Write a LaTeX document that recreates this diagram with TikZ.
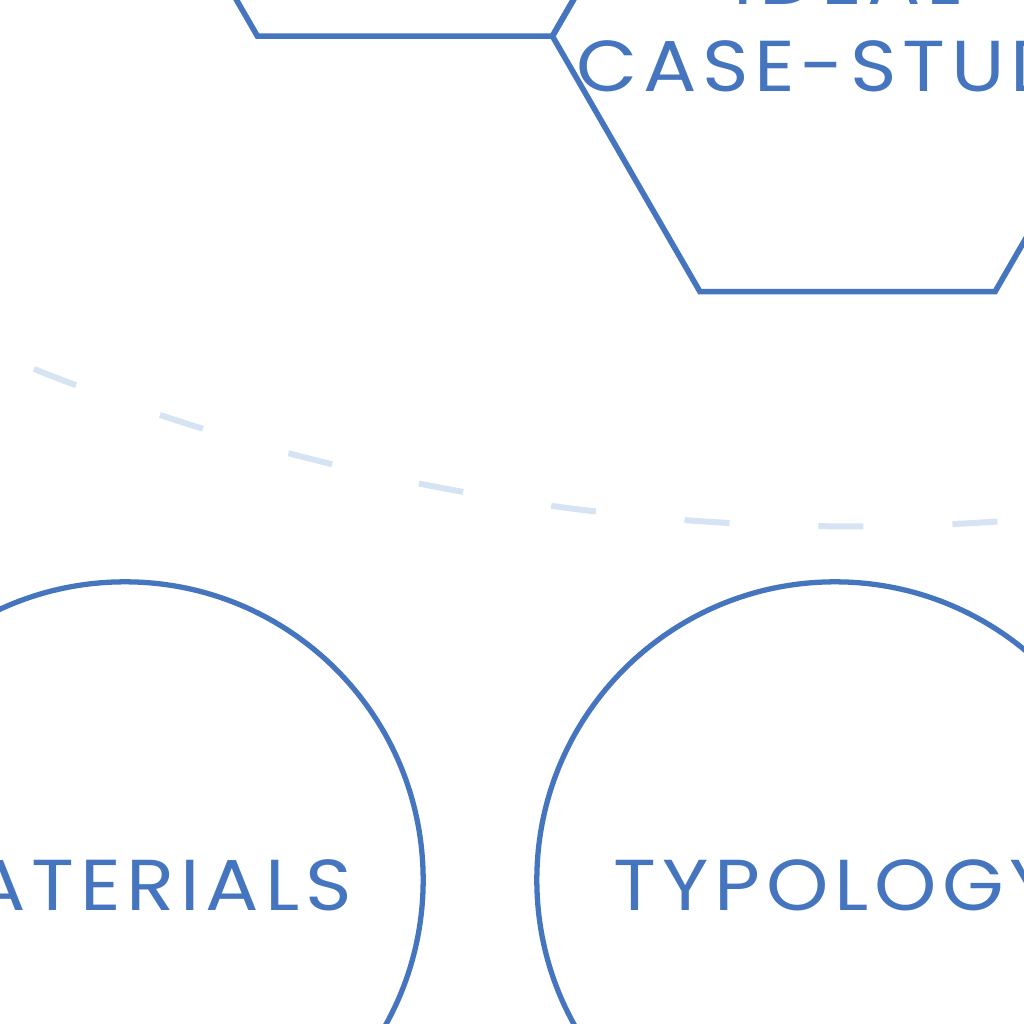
\documentclass[tikz,border=0pt]{standalone}
\usepackage{fontspec}
\setmainfont{Poppins}[LetterSpace=8,FakeStretch=1.1]
\usepackage{tikz}
\usetikzlibrary{shapes.geometric}
\definecolor{cellblue}{HTML}{4575BE}
\definecolor{linkblue}{HTML}{D5E3F2}
\tikzset{
  hexcell/.style={draw=cellblue,line width=1.6pt,regular polygon,regular polygon sides=6,minimum size=5.9cm,inner sep=0pt},
  bubble/.style={draw=cellblue,line width=1.5pt,circle,minimum size=5.96cm,inner sep=0pt,text=cellblue,text height=0.62cm,font=\fontsize{20.5}{25}\selectfont},
  celltext/.style={text=cellblue,align=center,inner sep=0pt,font=\fontsize{20.5}{24.7}\selectfont},
  linkline/.style={draw=linkblue,line width=1.7pt,dash pattern=on 0.45cm off 0.89cm}
}
\begin{document}
\begin{tikzpicture}[x=0.01cm,y=-0.01cm]
\useasboundingbox (0,0) rectangle (1024,1024);
\clip (0,0) rectangle (1024,1024);
% honeycomb
\node[hexcell] (designHex) at (405,-219.5) {};
\node[hexcell] (caseHex) at (847.5,36) {};
\node[celltext] (caseText) at ([yshift=0.13cm]caseHex.center) {IDEAL\\CASE-STUDY};
% link
\coordinate (linkA) at (34,369);
\draw[linkline] (linkA) arc[start angle=111.8,end angle=86,radius=2200];
% bubbles
\node[bubble] (materials) at (125,880) {MATERIALS};
\node[bubble] (typology) at (835,880) {TYPOLOGY};
\end{tikzpicture}
\end{document}
